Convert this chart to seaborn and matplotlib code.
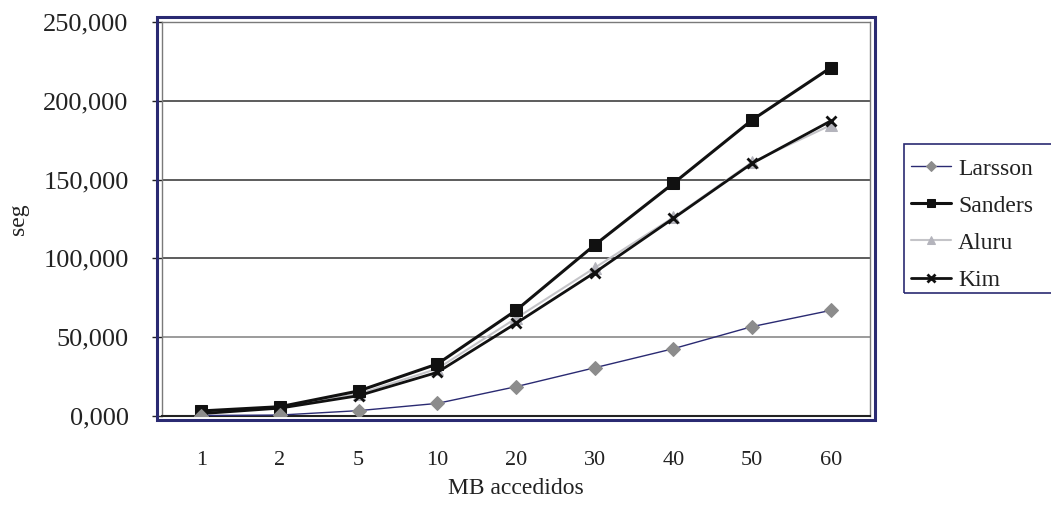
import matplotlib
matplotlib.use("Agg")
import matplotlib.pyplot as plt
import seaborn as sns
import numpy as np
import pandas as pd
from matplotlib.patches import Rectangle

categories = ["1", "2", "5", "10", "20", "30", "40", "50", "60"]
larsson = [0.3, 0.6, 3.4, 8.0, 18.6, 30.6, 42.7, 56.7, 67.0]
sanders = [3.2, 5.9, 15.9, 33.0, 67.0, 108.5, 147.6, 187.8, 221.0]
aluru = [2.0, 5.5, 14.0, 30.0, 62.0, 94.0, 126.0, 161.0, 184.5]
kim = [1.5, 5.0, 12.9, 27.7, 58.8, 91.0, 125.4, 160.3, 187.2]
yticks = [0, 50, 100, 150, 200, 250]

sns.set_style("white")
plt.rcParams["font.family"] = ["Liberation Serif", "DejaVu Serif"]

W, H = 1051, 509
fig = plt.figure(figsize=(W / 100, H / 100), dpi=100)
ax = fig.add_axes([162 / W, 1 - 416 / H, (870 - 162) / W, (416 - 22) / H])

pos = np.arange(len(categories))
navy = "#2a2a72"

sns.lineplot(x=pos, y=larsson, ax=ax, color=navy, lw=1.0, marker="D",
             markersize=7, markerfacecolor="#8c8c8c", markeredgecolor="#8c8c8c",
             label="Larsson", zorder=5)
sns.lineplot(x=pos, y=sanders, ax=ax, color="#111111", lw=2.2, marker="s",
             markersize=8, markerfacecolor="#111111", markeredgecolor="#111111",
             label="Sanders", zorder=4)
sns.lineplot(x=pos, y=aluru, ax=ax, color="#c4c4c8", lw=1.5, marker="^",
             markersize=8, markerfacecolor="#b4b4bc", markeredgecolor="#b4b4bc",
             label="Aluru", zorder=3)
sns.lineplot(x=pos, y=kim, ax=ax, color="#111111", lw=2.0, marker="x",
             markersize=7, markeredgewidth=2, markeredgecolor="#111111",
             label="Kim", zorder=4)

ax.set_xlim(-0.5, len(categories) - 0.5)
ax.set_ylim(0, 250)
ax.set_xticks(pos)
ax.set_xticklabels(categories)
ax.set_xticks(np.arange(-0.5, len(categories), 1.0), minor=True)
ax.tick_params(axis="x", which="major", length=0, pad=25, labelsize=16, labelcolor="#222222")
ax.tick_params(axis="x", which="minor", length=9, width=1.2, color="#222222", direction="out")
ax.set_yticks(yticks)
ax.set_yticklabels([f"{v},000" for v in yticks])
ax.tick_params(axis="y", which="major", length=7, width=1, color="#222222", pad=17,
               labelsize=19, labelcolor="#222222", left=True)

for v in yticks[1:-1]:
    ax.axhline(v, color="#303030" if v != 50 else "#808080", lw=1.1, zorder=1)

for s in ["top", "right", "left"]:
    ax.spines[s].set_color("#7a7a7a")
    ax.spines[s].set_linewidth(1.0)
ax.spines["bottom"].set_color("#222222")
ax.spines["bottom"].set_linewidth(1.5)

ax.set_xlabel("MB accedidos", fontsize=17, color="#222222")
ax.xaxis.set_label_coords(0.5, -(489 - 416) / (416 - 22), transform=ax.transAxes)
ax.xaxis.label.set_va("center")
ax.set_ylabel("seg", fontsize=17, color="#222222")
ax.yaxis.set_label_coords(-(162 - 18) / (870 - 162), 0.5, transform=ax.transAxes)
ax.yaxis.label.set_va("center")

# outer navy frame of plot area
fig.add_artist(Rectangle((157 / W, 1 - 420 / H), (875 - 157) / W, (420 - 17) / H,
                         transform=fig.transFigure, fill=False, edgecolor=navy, lw=2.2))

handles, labels = ax.get_legend_handles_labels()
ax.get_legend().remove()
leg = fig.legend(handles, labels, loc="upper left",
                 bbox_to_anchor=(911 / W, 1 - 158 / H),
                 frameon=False, fontsize=17,
                 handlelength=1.7, handletextpad=0.3, borderpad=0.0,
                 labelspacing=0.66, borderaxespad=0, markerscale=0.75)
for t in leg.get_texts():
    t.set_color("#222222")
# legend frame (extends past the right edge as in the reference)
fig.add_artist(Rectangle((904 / W, 1 - 293 / H), (1070 - 904) / W, (293 - 144) / H,
                         transform=fig.transFigure, fill=False, edgecolor=navy, lw=1.2))

fig.savefig("out.png", dpi=100)
